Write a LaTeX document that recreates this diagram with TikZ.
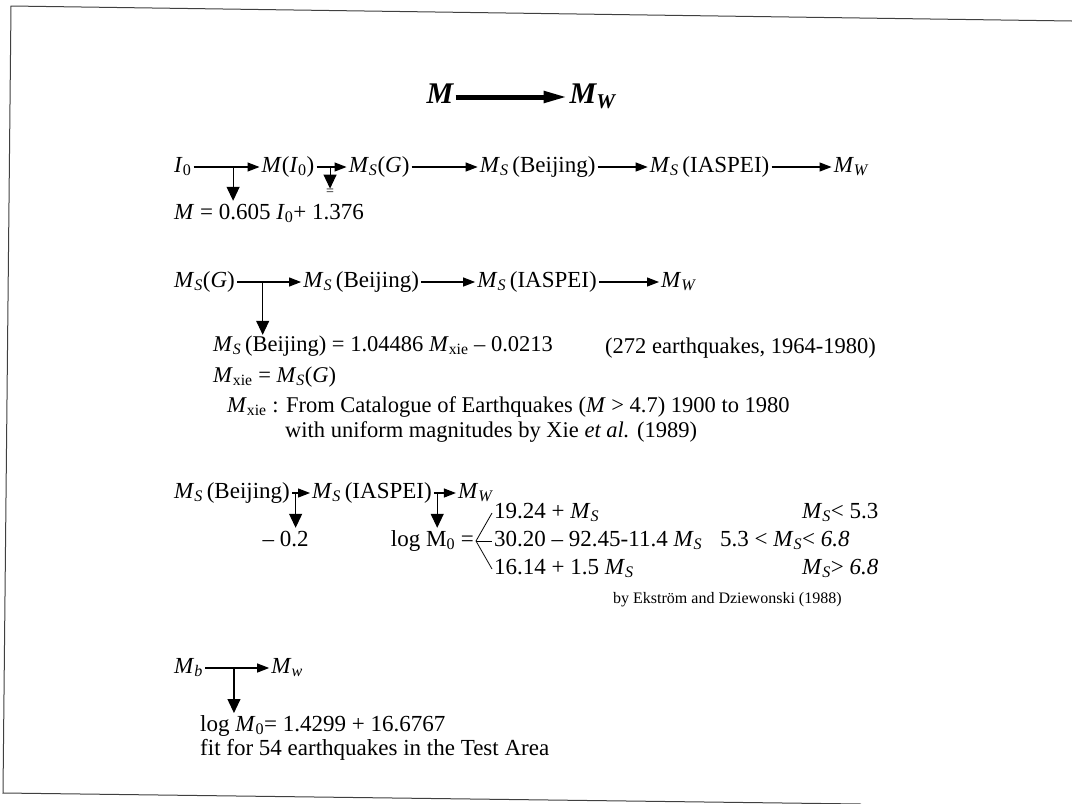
\documentclass[tikz,border=0pt]{standalone}
\usepackage{fontspec}
\setmainfont{Liberation Serif}
\usetikzlibrary{arrows.meta,positioning}
\newcommand{\Ms}{\textit{M}\textsubscript{\textit{S}}}
\newcommand{\Mxie}{\textit{M}\textsubscript{xie}}
\newcommand{\Mw}{\textit{M}\textsubscript{\textit{W}}}

\begin{document}
\begin{tikzpicture}[x=1pt,y=-1pt,every node/.style={font=\fontsize{23}{27}\selectfont},
 lbl/.style={inner sep=2pt,text height=16pt,text depth=6pt},
 note/.style={inner sep=1pt,anchor=west,text height=15pt,text depth=5pt,font=\fontsize{22.5}{26}\selectfont},
 ttl/.style={inner sep=2pt,text height=20pt,text depth=7pt,font=\fontsize{30}{34}\selectfont\bfseries\itshape},
 arr/.style={-{Triangle[length=12pt,width=9pt]},line width=1.1pt},
 darr/.style={-{Triangle[length=14pt,width=13pt]},line width=1.1pt},
 big/.style={-{Triangle[length=24pt,width=11pt]},line width=5pt}]
\useasboundingbox (0,0) rectangle (1072,804);
\draw[line width=1pt,black!75] (1072,21) -- (11,6) -- (3,793) -- (861,804);
% title
\node[ttl](tM) at (440,97){M};
\node[ttl,right=112pt of tM](tW){M\textsubscript{W}};
\draw[big](tM)--(tW);
% intensity to Mw
\node[lbl,anchor=west](I0) at (172,167){\textit{I}\textsubscript{0}};
\node[lbl,right=66pt of I0](MI0){\textit{M}(\textit{I}\textsubscript{0})};
\node[lbl,right=30pt of MI0](G1){\Ms(\textit{G})};
\node[lbl,right=66pt of G1](B1){\Ms\,(Beijing)};
\node[lbl,right=50pt of B1](IA1){\Ms\,(IASPEI)};
\node[lbl,right=60pt of IA1](W1){\Mw};
\draw[arr](I0)--coordinate[pos=.6](j1)(MI0);
\draw[arr](MI0)--coordinate[pos=.45](j2)(G1);
\foreach \x/\y in {G1/B1,B1/IA1,IA1/W1}{\draw[arr](\x)--(\y);}
\node[lbl,anchor=west](eqA) at (172,214){\textit{M} = 0.605 \textit{I}\textsubscript{0}+ 1.376};
\draw[darr](j1)--(j1|-eqA.north);
\node[inner sep=0pt,font=\fontsize{14}{16}\selectfont](eqB) at ([yshift=-25pt]j2){=};
\draw[darr](j2)--(eqB.north);
% Ms(G)
\node[lbl,anchor=west](G2) at (172,282){\Ms(\textit{G})};
\node[lbl,right=64pt of G2](B2){\Ms\,(Beijing)};
\node[lbl,right=54pt of B2](IA2){\Ms\,(IASPEI)};
\node[lbl,right=60pt of IA2](W2){\Mw};
\draw[arr](G2)--coordinate[pos=.4](j3)(B2);
\foreach \x/\y in {B2/IA2,IA2/W2}{\draw[arr](\x)--(\y);}
\node[note](n1) at (212,346){\Ms\,(Beijing) = 1.04486 \Mxie\ -- 0.0213};
\node[note](n1b) at (604,348){(272 earthquakes, 1964-1980)};
\node[note](n2) at (212,377){\Mxie\ = \Ms(\textit{G})};
\node[note](n3) at (226,407){\Mxie\ : From Catalogue of Earthquakes (\textit{M} > 4.7) 1900 to 1980};
\node[note](n4) at (284,432){with uniform magnitudes by Xie \textit{et al.} (1989)};
\draw[darr](j3)--(j3|-n1.north);
% Ms(Beijing)
\node[lbl,anchor=west](B3) at (172,493){\Ms\,(Beijing)};
\node[lbl,right=18pt of B3](IA3){\Ms\,(IASPEI)};
\node[lbl,right=22pt of IA3](W3){\Mw};
\draw[arr](B3)--coordinate[pos=.2](j4)(IA3);
\draw[arr](IA3)--coordinate[pos=.15](j5)(W3);
\node[lbl](d02) at ([xshift=-10pt,yshift=-48pt]j4){-- 0.2};
\draw[darr](j4)--(j4|-d02.north);
\node[lbl,anchor=east](lg) at (476,541){log M\textsubscript{0} =};
\draw[darr](j5)--(j5|-lg.north);
\coordinate(apex) at (lg.east);
\node[lbl,anchor=west](r1) at (492,513){19.24 + \Ms};
\node[lbl,anchor=west](r2) at (492,541){30.20 -- 92.45-11.4 \Ms};
\node[lbl,anchor=west](r3) at (492,569){16.14 + 1.5 \Ms};
\foreach \r in {r1,r2,r3}{\draw[line width=.8pt](apex)--(\r.west);}
\node[lbl,anchor=west](c1) at (800,513){\Ms< 5.3};
\node[lbl,anchor=west](c2) at (718,541){5.3 < \Ms< \textit{6.8}};
\node[lbl,anchor=west](c3) at (800,569){\Ms> \textit{6.8}};
\node[inner sep=1pt,anchor=west,font=\fontsize{16}{19}\selectfont](src) at (612,600){by Ekström and Dziewonski (1988)};
% Mb
\node[lbl,anchor=west](Mb) at (172,668){\textit{M}\textsubscript{\textit{b}}};
\node[lbl,right=64pt of Mb](W4){\textit{M}\textsubscript{\textit{w}}};
\draw[arr](Mb)--coordinate[pos=.45](j6)(W4);
\node[inner sep=2pt,anchor=north west,align=left,font=\fontsize{23}{24}\selectfont](lg2) at (198,713){log \textit{M}\textsubscript{0}= 1.4299 + 16.6767\\fit for 54 earthquakes in the Test Area};
\draw[darr](j6)--(j6|-lg2.north);
\end{tikzpicture}
\end{document}
